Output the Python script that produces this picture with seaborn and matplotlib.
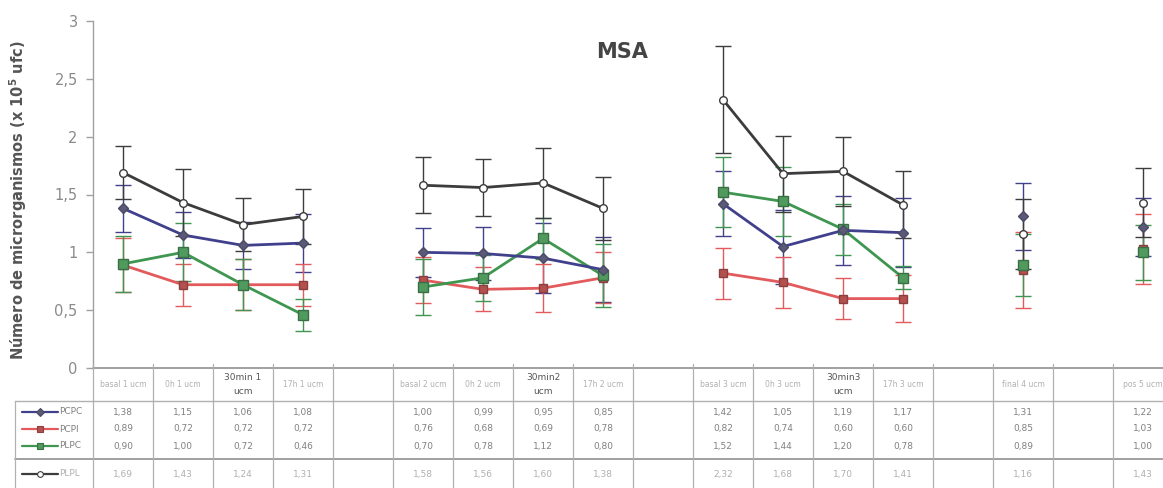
import numpy as np
import pandas as pd
import matplotlib
matplotlib.use("Agg")
import matplotlib.pyplot as plt
import seaborn as sns

nan = np.nan
# ---------------- data ----------------
columns = ["basal 1 ucm", "0h 1 ucm", "30min 1\nucm", "17h 1 ucm", "",
           "basal 2 ucm", "0h 2 ucm", "30min2\nucm", "17h 2 ucm", "",
           "basal 3 ucm", "0h 3 ucm", "30min3\nucm", "17h 3 ucm", "",
           "final 4 ucm", "", "pos 5 ucm"]
segments = [1, 1, 1, 1, 0, 2, 2, 2, 2, 0, 3, 3, 3, 3, 0, 4, 0, 5]
series_names = ["PCPC", "PCPI", "PLPC", "PLPL"]
pcpc = [1.38, 1.15, 1.06, 1.08, nan, 1.00, 0.99, 0.95, 0.85, nan, 1.42, 1.05, 1.19, 1.17, nan, 1.31, nan, 1.22]
pcpi = [0.89, 0.72, 0.72, 0.72, nan, 0.76, 0.68, 0.69, 0.78, nan, 0.82, 0.74, 0.60, 0.60, nan, 0.85, nan, 1.03]
plpc = [0.90, 1.00, 0.72, 0.46, nan, 0.70, 0.78, 1.12, 0.80, nan, 1.52, 1.44, 1.20, 0.78, nan, 0.89, nan, 1.00]
plpl = [1.69, 1.43, 1.24, 1.31, nan, 1.58, 1.56, 1.60, 1.38, nan, 2.32, 1.68, 1.70, 1.41, nan, 1.16, nan, 1.43]
err_pcpc = [0.20, 0.20, 0.20, 0.25, nan, 0.21, 0.23, 0.30, 0.28, nan, 0.28, 0.32, 0.30, 0.30, nan, 0.29, nan, 0.25]
err_pcpi = [0.23, 0.18, 0.22, 0.18, nan, 0.20, 0.19, 0.21, 0.22, nan, 0.22, 0.22, 0.18, 0.20, nan, 0.33, nan, 0.30]
err_plpc = [0.24, 0.25, 0.22, 0.14, nan, 0.24, 0.20, 0.18, 0.27, nan, 0.30, 0.30, 0.22, 0.10, nan, 0.27, nan, 0.24]
err_plpl = [0.23, 0.29, 0.23, 0.24, nan, 0.24, 0.25, 0.30, 0.27, nan, 0.46, 0.33, 0.30, 0.29, nan, 0.30, nan, 0.30]
yticks = [0, 0.5, 1, 1.5, 2, 2.5, 3]
ytick_labels = ["0", "0,5", "1", "1,5", "2", "2,5", "3"]

values = {"PCPC": pcpc, "PCPI": pcpi, "PLPC": plpc, "PLPL": plpl}
errors = {"PCPC": err_pcpc, "PCPI": err_pcpi, "PLPC": err_plpc, "PLPL": err_plpl}

rows = []
for s in series_names:
    for i, (v, e) in enumerate(zip(values[s], errors[s])):
        if not np.isnan(v):
            rows.append({"series": s, "pos": i, "value": v, "err": e, "seg": segments[i]})
df = pd.DataFrame(rows)

# ---------------- styles ----------------
line_col = {"PCPC": "#40408c", "PCPI": "#e25a5c", "PLPC": "#3f9650", "PLPL": "#3c3c3c"}
face_col = {"PCPC": "#5a5a78", "PCPI": "#b4504e", "PLPC": "#4f9a5c", "PLPL": "white"}
edge_col = {"PCPC": "#4a4a66", "PCPI": "#8a4040", "PLPC": "#3a6e44", "PLPL": "#3c3c3c"}
marker = {"PCPC": "D", "PCPI": "s", "PLPC": "s", "PLPL": "o"}
msize = {"PCPC": 5, "PCPI": 6, "PLPC": 6.5, "PLPL": 5.5}

sns.set_style("white")
plt.rcParams["font.family"] = ["DejaVu Sans"]

W, H = 1163, 488
fig = plt.figure(figsize=(W / 100, H / 100), dpi=100)

ncol = len(columns)
colw = 60
x0 = 93
y_top, y_bot = 21, 368
ax = fig.add_axes([x0 / W, 1 - y_bot / H, (ncol * colw) / W, (y_bot - y_top) / H])

for s in series_names:
    sub = df[df.series == s]
    ax.errorbar(sub["pos"], sub["value"], yerr=sub["err"], fmt="none",
                ecolor=line_col[s], elinewidth=1.0, capsize=6, capthick=1.0, zorder=2)
for z, s in enumerate(["PCPI", "PLPC", "PCPC", "PLPL"]):
    sub = df[df.series == s]
    sns.lineplot(data=sub, x="pos", y="value", units="seg", estimator=None,
                 color=line_col[s], linewidth=2.0, marker=marker[s],
                 markersize=msize[s], markerfacecolor=face_col[s],
                 markeredgecolor=edge_col[s], markeredgewidth=1.0,
                 legend=False, ax=ax, zorder=3 + z)

ax.set_xlim(-0.5, ncol - 0.5)
ax.set_ylim(0, 3)
ax.set_yticks(yticks)
ax.set_yticklabels(ytick_labels)
ax.set_xticks([])
ax.set_xlabel("")
ax.set_ylabel("")
for sp in ["top", "right", "bottom"]:
    ax.spines[sp].set_visible(False)
ax.spines["left"].set_color("#a0a0a0")
ax.spines["left"].set_linewidth(1.0)
ax.tick_params(axis="y", left=True, length=5, width=1, color="#a0a0a0",
               labelcolor="#8a8a8a", labelsize=10.5, pad=6)
ax.patch.set_alpha(0)

fig.text(18 / W, 1 - 200 / H, "Número de microrganismos (x 10$^{\\mathbf{5}}$ ufc)",
         rotation=90, ha="center", va="center", fontsize=10.5, fontweight="bold", color="#555555")
fig.text(622 / W, 1 - 52 / H, "MSA", ha="center", va="center", fontsize=15,
         fontweight="bold", color="#454545")

# ---------------- data table ----------------
ov = fig.add_axes([0, 0, 1, 1])
ov.set_xlim(0, W)
ov.set_ylim(H, 0)
ov.axis("off")
ov.patch.set_alpha(0)

gc = "#b0b0b0"
x_right = x0 + ncol * colw
hdr_top, hdr_bot = 368, 401
row_y = [412, 429, 446, 474]
sep_y = 459
ov.plot([x0, x_right], [hdr_top, hdr_top], color="#909090", lw=1.2)
ov.plot([15, x_right], [hdr_bot, hdr_bot], color=gc, lw=1.0)
ov.plot([15, x_right], [sep_y, sep_y], color="#909090", lw=1.2)
for k in range(ncol + 1):
    xx = x0 + k * colw
    ov.plot([xx, xx], [hdr_top - 4, H], color=gc, lw=0.9)
ov.plot([15, 15], [hdr_bot, H], color=gc, lw=0.9)

for i, lab in enumerate(columns):
    cx = x0 + colw * (i + 0.5)
    if "\n" in lab:
        ov.text(cx, (hdr_top + hdr_bot) / 2, lab, ha="center", va="center",
                fontsize=6.5, color="#555555", linespacing=1.6)
    elif lab:
        ov.text(cx, (hdr_top + hdr_bot) / 2, lab, ha="center", va="center",
                fontsize=5.5, color="#b0b0b0")

txt_col = {"PCPC": "#808080", "PCPI": "#808080", "PLPC": "#808080", "PLPL": "#b0b0b0"}
for r, s in enumerate(series_names):
    yy = row_y[r]
    ov.plot([22, 58], [yy, yy], color=line_col[s], lw=1.6)
    ov.plot([40], [yy], marker=marker[s], markersize=msize[s] * 0.75,
            markerfacecolor=face_col[s], markeredgecolor=edge_col[s], markeredgewidth=0.8)
    ov.text(59, yy, s, ha="left", va="center", fontsize=6.5, color=txt_col[s])
    for i, v in enumerate(values[s]):
        if not np.isnan(v):
            ov.text(x0 + colw * (i + 0.5), yy, f"{v:.2f}".replace(".", ","),
                    ha="center", va="center", fontsize=6.5, color=txt_col[s])

fig.savefig("out.png", dpi=100)
